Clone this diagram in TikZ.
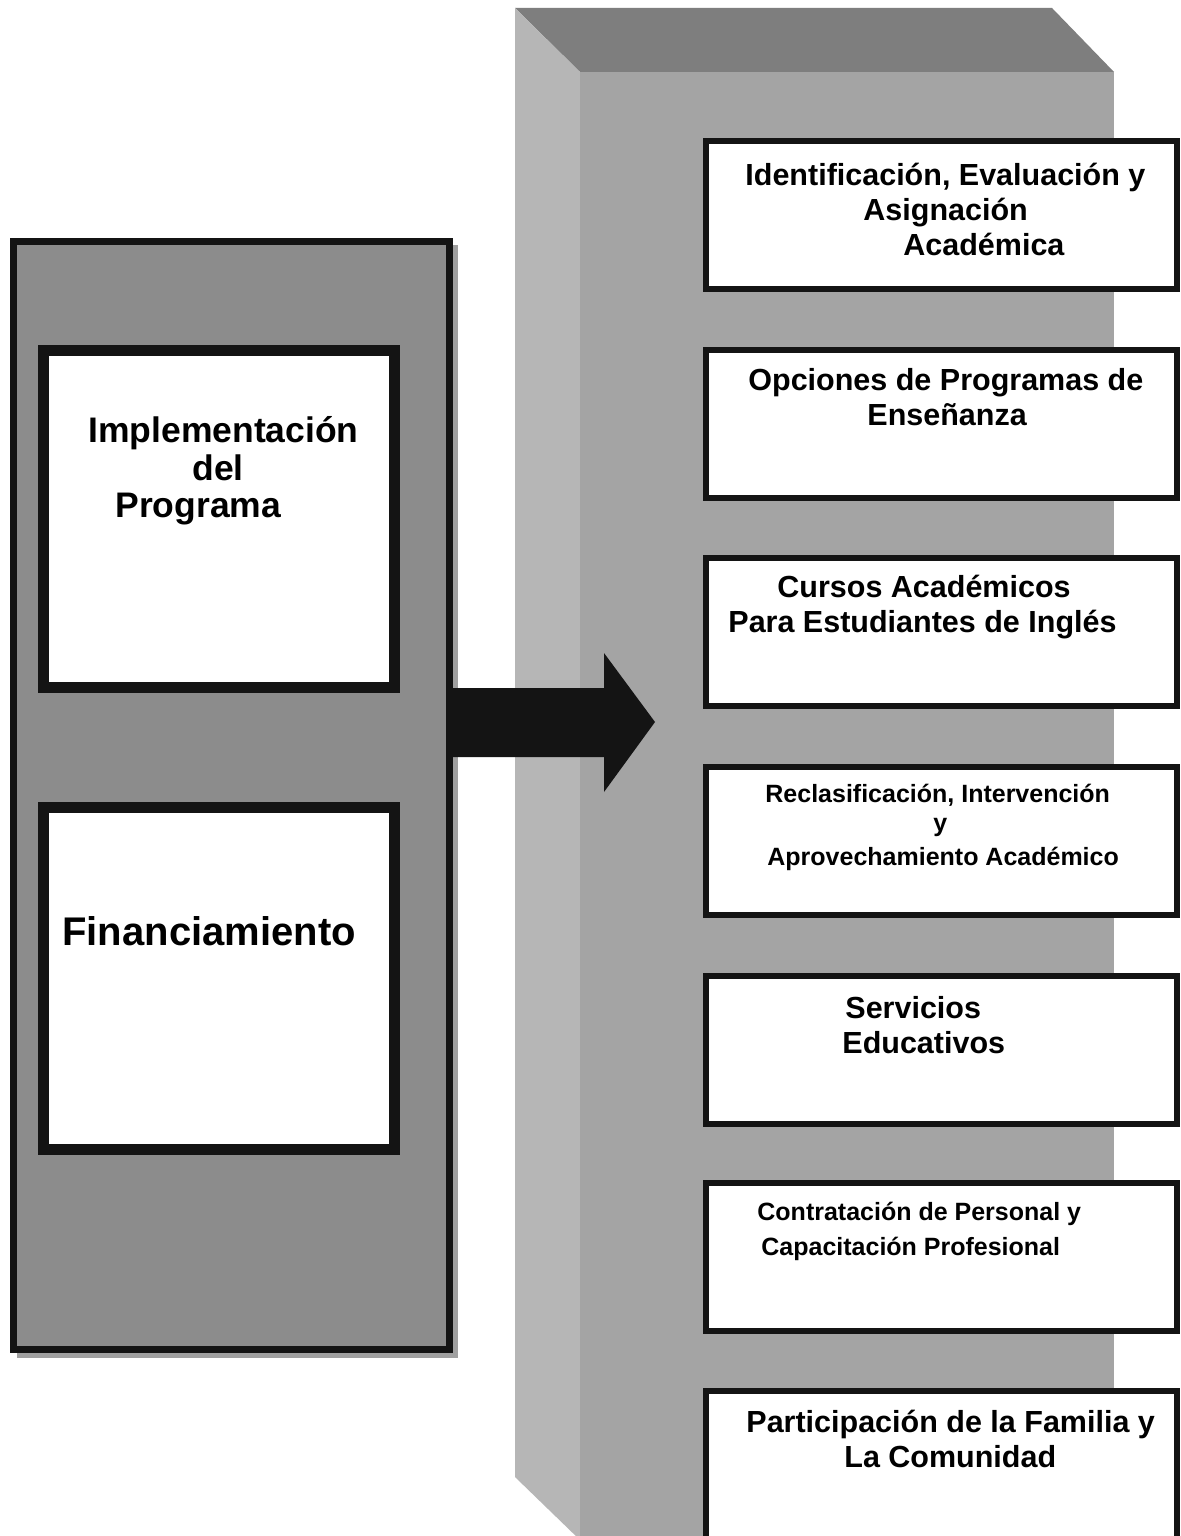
\documentclass[tikz,border=0pt]{standalone}
\usepackage{fontspec}
\setmainfont{Liberation Sans}
\definecolor{topface}{HTML}{7E7E7E}
\definecolor{frontface}{HTML}{A4A4A4}
\definecolor{leftface}{HTML}{B6B6B6}
\definecolor{panelgray}{HTML}{8C8C8C}
\definecolor{shadowgray}{HTML}{A0A0A0}
\definecolor{inkblack}{HTML}{141414}
\tikzset{
  rbox/.style={draw=inkblack, fill=white, line width=3pt, rectangle, inner sep=0pt, outer sep=0pt,
    minimum width=235.5pt, minimum height=74pt},
  lbox/.style={draw=inkblack, fill=white, line width=5.5pt, rectangle, inner sep=0pt, outer sep=0pt,
    minimum width=175.5pt},
  txtL/.style={anchor=base west, inner sep=0pt, font=\bfseries\fontsize{15.25pt}{18pt}\selectfont},
  txtS/.style={anchor=base west, inner sep=0pt, font=\bfseries\fontsize{12.5pt}{15pt}\selectfont},
  txtX/.style={anchor=base west, inner sep=0pt, font=\bfseries\fontsize{17.75pt}{21pt}\selectfont},
  txtXX/.style={anchor=base west, inner sep=0pt, font=\bfseries\fontsize{20pt}{24pt}\selectfont},
}
\begin{document}
\begin{tikzpicture}[x=0.5pt, y=-0.5pt]
\clip (0,0) rectangle (1180,1536);
\fill[white] (0,0) rectangle (1180,1536);

% 3D block
\fill[topface] (515,8) -- (1052,8) -- (1114,72) -- (580,72) -- cycle;
\fill[leftface] (515,8) -- (580,72) -- (580,1540) -- (515,1477) -- cycle;
\fill[frontface] (580,72) rectangle (1114,1540);

% left panel
\fill[shadowgray] (17,245) rectangle (458,1358);
\draw[inkblack, line width=3.5pt, fill=panelgray] (13.5,241.5) rectangle (449.5,1349.5);
\coordinate (panelE) at (449.5,722);

\node[lbox, minimum height=168.5pt] (impl) at (219,519) {};
\node[lbox, minimum height=171pt] (fin) at (219,978.5) {};

\node[txtX] (impl1) at (88,442) {Implementación};
\node[txtX] (impl2) at (192,480) {del};
\node[txtX] (impl3) at (115,517) {Programa};
\node[txtXX] (fin1) at (62,945) {Financiamiento};

% block arrow
\fill[inkblack] (panelE |- 0,688) -- (604,688) -- (604,653) -- (655,722) -- (604,792) -- (604,757) -- (panelE |- 0,757) -- cycle;

% right boxes
\node[rbox] (b1) at (941.5,215) {};
\node[rbox] (b2) at (941.5,423.5) {};
\node[rbox] (b3) at (941.5,632) {};
\node[rbox] (b4) at (941.5,840.5) {};
\node[rbox] (b5) at (941.5,1049.5) {};
\node[rbox] (b6) at (941.5,1256.5) {};
\node[rbox] (b7) at (941.5,1465) {};

\node[txtL] (t1a) at (745,185) {Identificación, Evaluación y};
\node[txtL] (t1b) at (863,220) {Asignación};
\node[txtL] (t1c) at (903,255) {Académica};

\node[txtL] (t2a) at (748,390) {Opciones de Programas de};
\node[txtL] (t2b) at (867,425) {Enseñanza};

\node[txtL] (t3a) at (777,597) {Cursos Académicos};
\node[txtL] (t3b) at (728,632) {Para Estudiantes de Inglés};

\node[txtS] (t4a) at (765,802) {Reclasificación, Intervención};
\node[txtS] (t4b) at (933,831) {y};
\node[txtS] (t4c) at (767,865) {Aprovechamiento Académico};

\node[txtL] (t5a) at (845,1018) {Servicios};
\node[txtL] (t5b) at (842,1053) {Educativos};

\node[txtS] (t6a) at (757,1220) {Contratación de Personal y};
\node[txtS] (t6b) at (761,1255) {Capacitación Profesional};

\node[txtL] (t7a) at (746,1432) {Participación de la Familia y};
\node[txtL] (t7b) at (844,1467) {La Comunidad};
\end{tikzpicture}
\end{document}
